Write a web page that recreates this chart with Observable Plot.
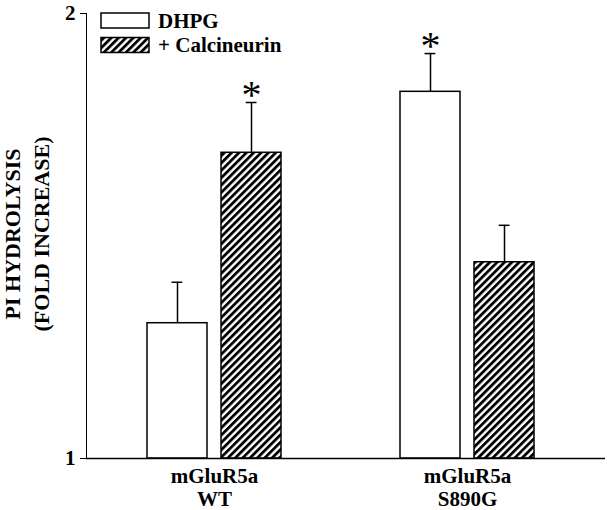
<!DOCTYPE html>
<html><head><meta charset="utf-8">
<script src="https://cdn.jsdelivr.net/npm/d3@7"></script>
<script src="https://cdn.jsdelivr.net/npm/@observablehq/plot@0.6"></script>
<style>body{margin:0;background:#fff}</style>
</head><body><div id="chart"></div>
<script>
const groups = ["WT", "S890G"];
const groupLabels = ["mGluR5a\nWT", "mGluR5a\nS890G"];
const series = ["DHPG", "+ Calcineurin"];
const dhpgValues = [1.304, 1.824];
const dhpgErrors = [0.092, 0.086];
const calcValues = [1.687, 1.441];
const calcErrors = [0.113, 0.083];
const dhpgSignificant = [false, true];
const calcSignificant = [true, false];
const yTicks = [1, 2];
const yLabel = "PI HYDROLYSIS\n(FOLD INCREASE)";

const rows = [];
groups.forEach((g, i) => {
  rows.push({group: g, series: series[0], value: dhpgValues[i], err: dhpgErrors[i], sig: dhpgSignificant[i]});
  rows.push({group: g, series: series[1], value: calcValues[i], err: calcErrors[i], sig: calcSignificant[i]});
});
const dh = rows.filter(d => d.series === series[0]);
const ca = rows.filter(d => d.series === series[1]);

const FONT = "'Liberation Serif', 'Times New Roman', serif";
const SW = 1.5;

const svg = Plot.plot({
  width: 607, height: 510,
  marginLeft: 86, marginTop: 13, marginBottom: 52, marginRight: 2,
  style: {fontFamily: FONT, fontSize: "21px", fontWeight: "bold", background: "white", color: "black"},
  x: {domain: groups, paddingInner: 0.47, paddingOuter: 0.26, align: 0.4625, label: null},
  y: {domain: [1, 2], ticks: yTicks, tickSize: 6, tickPadding: 5, line: true, label: null, tickFormat: d => String(d)},
  marks: [
    Plot.axisX({tickSize: 0, tickPadding: 9, lineHeight: 1.06, label: null,
      tickFormat: d => groupLabels[groups.indexOf(d)]}),
    Plot.barY(dh, {x: "group", y1: 1, y2: "value", fill: "white", stroke: "black", strokeWidth: SW, insetRight: 74}),
    Plot.barY(ca, {x: "group", y1: 1, y2: "value", fill: "url(#hatch)", stroke: "black", strokeWidth: SW, insetLeft: 74}),
    Plot.ruleX(dh, {x: "group", y1: "value", y2: d => d.value + d.err, dx: -37, strokeWidth: SW}),
    Plot.ruleX(ca, {x: "group", y1: "value", y2: d => d.value + d.err, dx: 37, strokeWidth: SW}),
    Plot.tickY(dh, {x: "group", y: d => d.value + d.err, insetLeft: 24.5, insetRight: 98.7, strokeWidth: SW}),
    Plot.tickY(ca, {x: "group", y: d => d.value + d.err, insetLeft: 98.7, insetRight: 24.5, strokeWidth: SW}),
    Plot.text(dh.filter(d => d.sig), {x: "group", y: d => d.value + d.err, text: () => "*", dx: -37, dy: -7, lineAnchor: "middle", fontSize: 40, fontWeight: "normal"}),
    Plot.text(ca.filter(d => d.sig), {x: "group", y: d => d.value + d.err, text: () => "*", dx: 37, dy: -7, lineAnchor: "middle", fontSize: 40, fontWeight: "normal"}),
    Plot.ruleY([1], {strokeWidth: SW}),
    Plot.text([yLabel], {text: d => d, frameAnchor: "left", textAnchor: "middle", lineAnchor: "middle", dx: -61, dy: -2, rotate: -90, fontSize: 22, lineHeight: 1.3})
  ]
});

const s = d3.select(svg);
const defs = s.insert("defs", ":first-child");
const pat = defs.append("pattern").attr("id", "hatch").attr("patternUnits", "userSpaceOnUse")
  .attr("width", 5.2).attr("height", 10).attr("patternTransform", "rotate(45)");
pat.append("rect").attr("width", 5.2).attr("height", 10).attr("fill", "white");
pat.append("rect").attr("width", 2.8).attr("height", 10).attr("fill", "black");

// legend
const lg = s.append("g").attr("font-family", FONT).attr("font-weight", "bold").attr("font-size", 21)
  .attr("text-anchor", "start");
series.forEach((name, i) => {
  const y0 = 13 + i * 24.5;
  lg.append("rect").attr("x", 101).attr("y", y0).attr("width", 48).attr("height", 15)
    .attr("fill", i === 0 ? "white" : "url(#hatch)").attr("stroke", "black").attr("stroke-width", SW);
  lg.append("text").attr("x", 158).attr("y", y0 + 7.5).attr("dy", "0.35em").attr("fill", "black").text(name);
});

document.getElementById("chart").appendChild(svg);
</script>
</body></html>
